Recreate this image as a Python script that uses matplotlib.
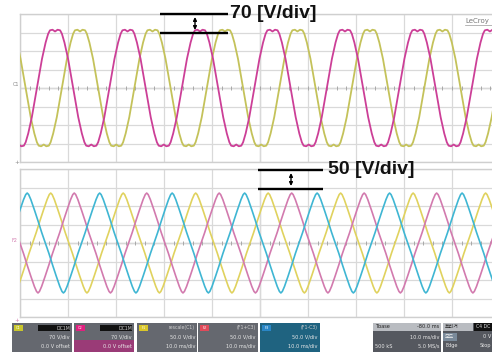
import matplotlib.pyplot as plt
from matplotlib.patches import Rectangle

# ===========================
# DATA (in divisions)
# ===========================

# 10 divisions across, 8 divisions high, same time base in both panels
period_div = 1.51

# one period of the top waveform (phase from a positive peak, level / amplitude)
top_phase = [0.0, 0.035, 0.07, 0.095, 0.13, 0.18, 0.25, 0.32, 0.37, 0.405, 0.43, 0.465,
             0.5, 0.535, 0.57, 0.595, 0.63, 0.68, 0.75, 0.82, 0.87, 0.905, 0.93, 0.965, 1.0]
top_level = [0.97, 1.0, 0.99, 0.93, 0.78, 0.5, 0.0, -0.5, -0.78, -0.93, -0.99, -1.0,
             -0.97, -1.0, -0.99, -0.93, -0.78, -0.5, 0.0, 0.5, 0.78, 0.93, 0.99, 1.0, 0.97]

# one period of the bottom waveform
bot_phase = [0.0, 0.02, 0.05, 0.1, 0.15, 0.2, 0.25, 0.3, 0.35, 0.4, 0.45, 0.48,
             0.5, 0.52, 0.55, 0.6, 0.65, 0.7, 0.75, 0.8, 0.85, 0.9, 0.95, 0.98, 1.0]
bot_level = [1.0, 0.97, 0.87, 0.66, 0.44, 0.21, 0.0, -0.21, -0.44, -0.66, -0.87, -0.97,
             -1.0, -0.97, -0.87, -0.66, -0.44, -0.21, 0.0, 0.21, 0.44, 0.66, 0.87, 0.97, 1.0]

# top panel: C1, C2 (70 V/div)
top_names = ["C1", "C2"]
top_first_peak = [1.25, 0.73]
top_amp = [3.15, 3.15]
top_colors = ["#c4c25a", "#cc3f97"]

# bottom panel: F1, F2, F3 (50 V/div)
bot_names = ["F1", "F2", "F3"]
bot_first_peak = [0.64, 1.13, 0.15]
bot_amp = [2.7, 2.7, 2.7]
bot_colors = ["#e0d25e", "#d27aae", "#3fb6d3"]

# info bar
ch_labels = ["C1", "C2", "F1", "F2", "F3"]
ch_tag_colors = ["#c9c62c", "#e0207f", "#d9c62a", "#e04a5a", "#2a86c6"]
ch_header = ["DC1M", "DC1M", "rescale(C1)", "(F1+C3)", "(F1-C3)"]
ch_vdiv = ["70 V/div", "70 V/div", "50.0 V/div", "50.0 V/div", "50.0 V/div"]
ch_line3 = ["0.0 V offset", "0.0 V offset", "10.0 ms/div", "10.0 ms/div", "10.0 ms/div"]


def tile(first_peak, amp, phase, level):
    xs, ys = [], []
    for k in range(-1, 8):
        xs += [first_peak + (k - 1 + p) * period_div for p in phase]
        ys += [amp * v for v in level]
    return xs, ys


# ===========================
# FIGURE
# ===========================

fig = plt.figure(figsize=(4.92, 3.52), dpi=100)
W, H = 492, 352


def panel(top_px):
    ax = fig.add_axes([20 / W, (H - top_px - 148) / H, 480 / W, 148 / H])
    ax.set_xlim(0, 10)
    ax.set_ylim(-4, 4)
    ax.set_xticks(range(11))
    ax.set_yticks(range(-4, 5))
    ax.grid(True, color="#d9d9d9", lw=0.9)
    ax.tick_params(length=0, labelbottom=False, labelleft=False)
    for s in ax.spines.values():
        s.set_color("#cfcfcf")
        s.set_linewidth(1.0)
    ax.axhline(0, color="#b5b5b5", lw=0.9, zorder=1)
    ax.axvline(5, color="#c4c4c4", lw=0.9, zorder=1)
    minor = [i / 5 for i in range(51)]
    ax.plot(minor, [0] * len(minor), ls="none", marker="|", ms=2.5, color="#a8a8a8", mew=0.7)
    return ax


ax1 = panel(14)
for p0, a, c in zip(top_first_peak, top_amp, top_colors):
    x, y = tile(p0, a, top_phase, top_level)
    ax1.plot(x, y, color=c, lw=1.3, zorder=3)

ax2 = panel(169)
for p0, a, c in zip(bot_first_peak, bot_amp, bot_colors):
    x, y = tile(p0, a, bot_phase, bot_level)
    ax2.plot(x, y, color=c, lw=1.2, zorder=3)

# overlay in pixel units for annotations and the info bar
ov = fig.add_axes([0, 0, 1, 1], zorder=10)
ov.set_xlim(0, W)
ov.set_ylim(H, 0)
ov.axis("off")
ov.patch.set_alpha(0)

# scale markers
for x0, x1, y0, y1, xa, label, xt in [(160, 228, 14, 33, 195, "70 [V/div]", 230),
                                       (258, 323, 170, 189, 291, "50 [V/div]", 328)]:
    ov.plot([x0, x1], [y0, y0], color="black", lw=1.7, solid_capstyle="butt")
    ov.plot([x0, x1], [y1, y1], color="black", lw=1.7, solid_capstyle="butt")
    ov.annotate("", xy=(xa, y0 + 3), xytext=(xa, y1 - 3),
                arrowprops=dict(arrowstyle="<|-|>", color="black", lw=1.0,
                                mutation_scale=5, shrinkA=0, shrinkB=0))
    ov.text(xt, y0, label, fontsize=14, fontweight="bold", family="Liberation Sans",
            color="#111111", va="center", ha="left")

ov.text(465, 21, "LeCroy", fontsize=5, color="#777777", va="center")
ov.plot([465, 492], [25, 25], color="#999999", lw=0.5)
ov.text(13, 85, "C1", fontsize=3.5, color="#888888", va="center")
ov.text(12, 240, "F2", fontsize=3.5, color="#d27aae", va="center")
ov.text(17, 163, "+", fontsize=4, color="#888888", va="center", ha="center")
ov.text(17, 320, "+", fontsize=4, color="#d27aae", va="center", ha="center")

# channel boxes
box_x = [12, 74, 137, 198, 260]
box_w = 60
for i, bx in enumerate(box_x):
    bg = "#1f6380" if ch_labels[i] == "F3" else "#65686f"
    ov.add_patch(Rectangle((bx, 323), box_w, 30, color=bg, lw=0))
    if ch_labels[i] == "C2":
        ov.add_patch(Rectangle((bx, 340), box_w, 13, color="#a8307a", lw=0, alpha=0.8))
    ov.add_patch(Rectangle((bx + 2, 325), 9, 6, color=ch_tag_colors[i], lw=0))
    ov.text(bx + 6.5, 328, ch_labels[i], fontsize=2.5, color="white", ha="center", va="center")
    if i < 2:
        ov.add_patch(Rectangle((bx + 26, 325), box_w - 28, 6, color="#111111", lw=0))
    ov.text(bx + box_w - 2, 328, ch_header[i], fontsize=3.3, color="#cfcfcf",
            ha="right", va="center")
    ov.text(bx + box_w - 2, 337, ch_vdiv[i], fontsize=3.6, color="#e8e8e8",
            ha="right", va="center")
    ov.text(bx + box_w - 2, 346, ch_line3[i], fontsize=3.6, color="#e8e8e8",
            ha="right", va="center")

# timebase box
ov.add_patch(Rectangle((373, 323), 68, 30, color="#55585f", lw=0))
ov.add_patch(Rectangle((373, 323), 68, 8, color="#b9bcc1", lw=0))
ov.text(375, 327, "Tbase", fontsize=3.6, color="#222222", va="center")
ov.text(439, 327, "-80.0 ms", fontsize=3.6, color="#222222", va="center", ha="right")
ov.text(439, 337, "10.0 ms/div", fontsize=3.6, color="#e8e8e8", va="center", ha="right")
ov.text(375, 346, "500 kS", fontsize=3.6, color="#e8e8e8", va="center")
ov.text(439, 346, "5.0 MS/s", fontsize=3.6, color="#e8e8e8", va="center", ha="right")

# trigger box
kr = ["Noto Sans CJK KR", "DejaVu Sans"]
ov.add_patch(Rectangle((443, 323), 50, 30, color="#55585f", lw=0))
ov.add_patch(Rectangle((443, 323), 30, 8, color="#b9bcc1", lw=0))
ov.add_patch(Rectangle((474, 323), 19, 8, color="#111111", lw=0))
ov.text(445, 327, "트리거", fontsize=3.6, color="#222222", va="center", family=kr)
ov.text(476, 327, "C4 DC", fontsize=3.3, color="#dddddd", va="center")
ov.add_patch(Rectangle((443, 333), 14, 8, color="#7a8a9a", lw=0))
ov.text(445, 337, "모드", fontsize=3.6, color="#f0f0f0", va="center", family=kr)
ov.text(491, 337, "0 V", fontsize=3.6, color="#e8e8e8", va="center", ha="right")
ov.text(445, 346, "Edge", fontsize=3.6, color="#e8e8e8", va="center")
ov.text(491, 346, "Stop", fontsize=3.6, color="#e8e8e8", va="center", ha="right")

fig.savefig("out.png", dpi=100, facecolor="white")
